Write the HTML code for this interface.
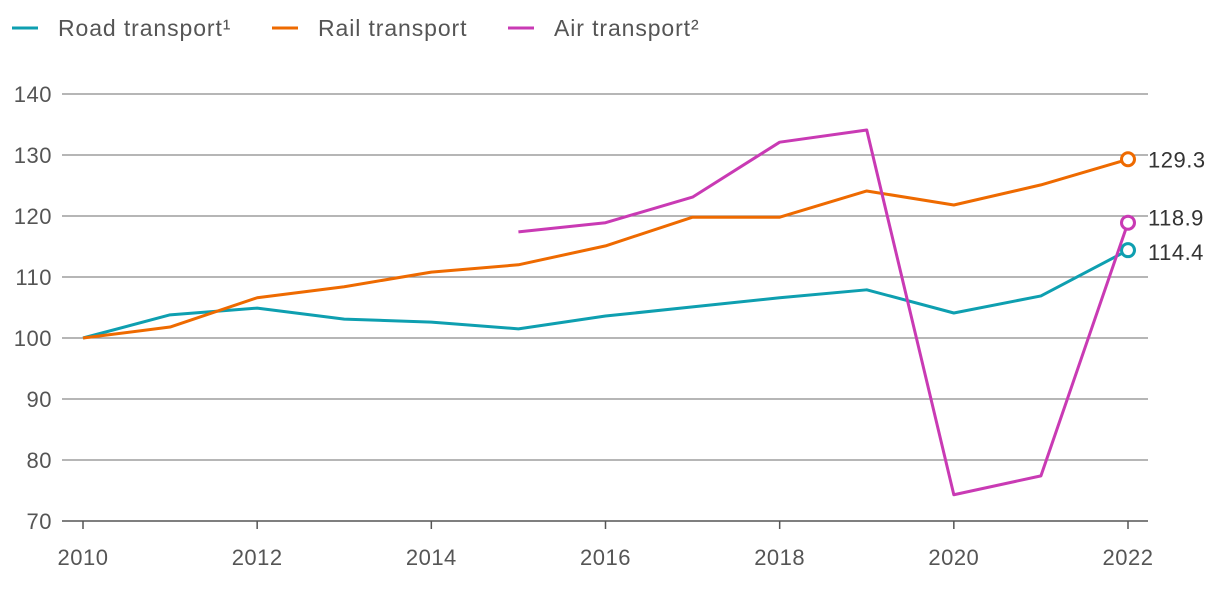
<!DOCTYPE html>
<html><head><meta charset="utf-8"><style>
body{margin:0;background:#fff;width:1220px;height:590px;overflow:hidden;font-family:"Liberation Sans",sans-serif}
</style></head><body>
<svg id="chart" width="1220" height="590" xmlns="http://www.w3.org/2000/svg" font-family="Liberation Sans, sans-serif"></svg>
<script>
const years=[2010,2011,2012,2013,2014,2015,2016,2017,2018,2019,2020,2021,2022];
const road=[100,103.8,104.9,103.1,102.6,101.5,103.6,105.1,106.6,107.9,104.1,106.9,114.4];
const rail=[100,101.8,106.6,108.4,110.8,112,115.1,119.8,119.8,124.1,121.8,125.1,129.3];
const air=[null,null,null,null,null,117.4,118.9,123.1,132.1,134.1,74.3,77.4,118.9];
const yTicks=[70,80,90,100,110,120,130,140];
const xTicks=[2010,2012,2014,2016,2018,2020,2022];
const seriesNames=["Road transport¹","Rail transport","Air transport²"];
const colors=["#0e9fb0","#ee6a00","#c93ab4"];
const NS="http://www.w3.org/2000/svg";
const svg=document.getElementById('chart');
const x=v=>83+(v-2010)*(1128-83)/12;
const y=v=>521-(v-70)*6.1;
function mk(t,a,p){const e=document.createElementNS(NS,t);for(const k in a)e.setAttribute(k,a[k]);(p||svg).appendChild(e);return e;}
yTicks.forEach(t=>{
 const l=mk('line',{x1:62,x2:1148,y1:y(t),y2:y(t),stroke:t===70?'#555':'#8a8a8a','stroke-width':t===70?1.5:1.2});
 
 
 const tx=mk('text',{x:52,y:y(t)+8,'text-anchor':'end','font-size':22,fill:'#555','letter-spacing':'0.5'});tx.textContent=t;
 
 
});
xTicks.forEach(t=>{
 mk('line',{x1:x(t),x2:x(t),y1:521,y2:529,stroke:'#555','stroke-width':1.5});
 const tx=mk('text',{x:x(t),y:565,'text-anchor':'middle','font-size':22,fill:'#555','letter-spacing':'0.5'});tx.textContent=t;
 
 
});
[road,rail,air].forEach((s,i)=>{
 let d='';s.forEach((v,j)=>{if(v==null)return;d+=(d?'L':'M')+x(years[j])+' '+y(v);});
 const p=mk('path',{d,fill:'none',stroke:colors[i],'stroke-width':3,'stroke-linejoin':'round'});
 
 
 const last=s[s.length-1];
 const c=mk('circle',{cx:x(2022),cy:y(last),r:6.5,fill:'#fff',stroke:colors[i],'stroke-width':3});
 
 
 const lb=mk('text',{x:1148,y:y(last)+(i===1?8:i===0?10:3),'font-size':22,fill:'#333','letter-spacing':'0.5'});lb.textContent=last.toFixed(1);
 
 
});
const lx=[12,272,508];
seriesNames.forEach((n,i)=>{
 const g=mk('g',{});
 
 
 mk('line',{x1:lx[i],x2:lx[i]+26,y1:28,y2:28,stroke:colors[i],'stroke-width':3},g);
 const t=mk('text',{x:lx[i]+46,y:36,'font-size':23,fill:'#555','letter-spacing':'0.9'},g);t.textContent=n;
});
</script>
</body></html>
